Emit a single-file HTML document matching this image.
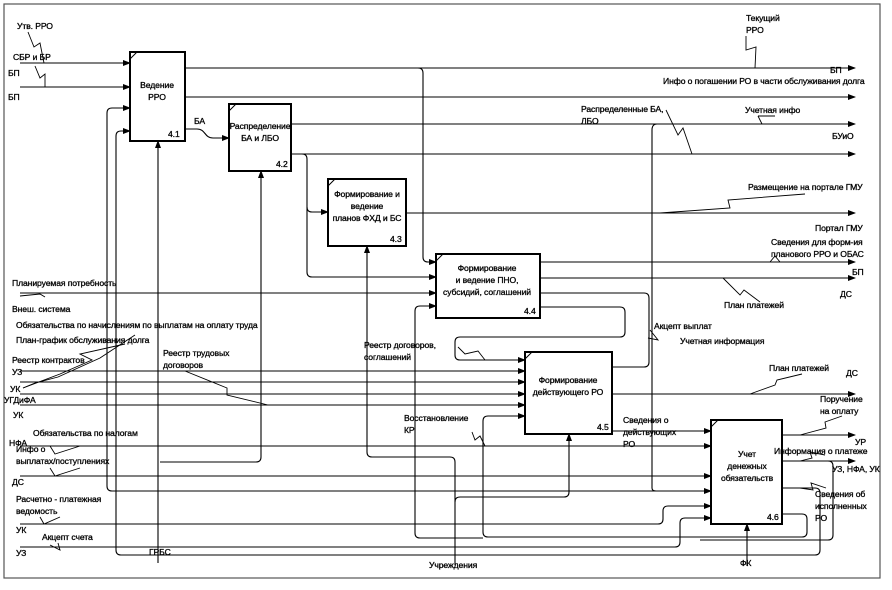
<!DOCTYPE html>
<html><head><meta charset="utf-8"><style>
html,body{margin:0;padding:0;background:#fff;}
svg{display:block;}
text{font-family:"Liberation Sans",Arial,sans-serif;font-size:8.6px;fill:#000;stroke:#000;stroke-width:0.3;letter-spacing:-0.1px;}
.c{text-anchor:middle;}
</style></head><body>
<svg width="892" height="590" viewBox="0 0 892 590" xmlns="http://www.w3.org/2000/svg">
<defs><marker id="a" markerWidth="8" markerHeight="6" refX="7" refY="3" orient="auto" markerUnits="userSpaceOnUse"><path d="M0,0 L8,3 L0,6 z" fill="#000"/></marker></defs>
<rect x="4" y="4" width="876" height="574" fill="none" stroke="#555" stroke-width="1.2"/>
<g fill="none" stroke="#000" stroke-width="1">
<rect x="130" y="52" width="55" height="89" stroke-width="2"/>
<rect x="229" y="104" width="62" height="67" stroke-width="2"/>
<rect x="328" y="179" width="78" height="67" stroke-width="2"/>
<rect x="436" y="254" width="104" height="64" stroke-width="2"/>
<rect x="525" y="352" width="87" height="82" stroke-width="2"/>
<rect x="711" y="420" width="71" height="104" stroke-width="2"/>
<path d="M130 59 L137 52 M229 111 L236 104 M328 186 L335 179 M436 261 L443 254 M525 359 L532 352 M711 427 L718 420"/>
</g>
<g fill="none" stroke="#000" stroke-width="1.1">
<path d="M20 63 H130" marker-end="url(#a)"/>
<path d="M20 87 H130" marker-end="url(#a)"/>
<path d="M107 486 V113 Q107 108 112 108 H130" marker-end="url(#a)"/>
<path d="M112 491 Q107 491 107 486"/>
<path d="M116 550 V136 Q116 131 121 131 H130" marker-end="url(#a)"/>
<path d="M158 563 V141" marker-end="url(#a)"/>
<path d="M185 68 H855" marker-end="url(#a)"/>
<path d="M418 68 Q423 68 423 73 V257 Q423 262 428 262 H436" marker-end="url(#a)"/>
<path d="M185 97 H855" marker-end="url(#a)"/>
<path d="M185 129 H197 C206 129 204 138 213 138 H229" marker-end="url(#a)"/>
<path d="M291 124 H855" marker-end="url(#a)"/>
<path d="M291 154 H855" marker-end="url(#a)"/>
<path d="M302 154 Q307 154 307 159 V207 Q307 212 312 212 H328" marker-end="url(#a)"/>
<path d="M307 207 V272 Q307 277 312 277 H436" marker-end="url(#a)"/>
<path d="M160 462 H256 Q261 462 261 457 V171" marker-end="url(#a)"/>
<path d="M406 213 H855" marker-end="url(#a)"/>
<path d="M455 565 V462 Q455 457 450 457 H372 Q367 457 367 452 V246" marker-end="url(#a)"/>
<path d="M20 293 H436" marker-end="url(#a)"/>
<path d="M415 533 V311 Q415 306 420 306 H436" marker-end="url(#a)"/>
<path d="M540 262 H855" marker-end="url(#a)"/>
<path d="M540 278 H855" marker-end="url(#a)"/>
<path d="M540 307 H620 Q625 307 625 312 V332 Q625 337 620 337 H460 Q455 337 455 342 V355 Q455 360 460 360 H525" marker-end="url(#a)"/>
<path d="M612 367 H644 Q649 367 649 362 V298 Q649 293 644 293 H540"/>
<path d="M652 488 V130 Q652 124 657 124"/>
<path d="M652 488 Q652 491 656 491"/>
<path d="M20 371 H525" marker-end="url(#a)"/>
<path d="M20 382 H525" marker-end="url(#a)"/>
<path d="M20 394 H525" marker-end="url(#a)"/>
<path d="M20 405 H525" marker-end="url(#a)"/>
<path d="M782 514 H802 Q807 514 807 519 V532 Q807 537 802 537 H488 Q483 537 483 532 V421 Q483 416 488 416 H525" marker-end="url(#a)"/>
<path d="M415 533 Q415 538 420 538 H483"/>
<path d="M569 492 V434" marker-end="url(#a)"/>
<path d="M569 492 Q569 497 564 497 H460 Q455 497 455 502"/>
<path d="M612 394 H855" marker-end="url(#a)"/>
<path d="M612 431 H711" marker-end="url(#a)"/>
<path d="M20 446 H711" marker-end="url(#a)"/>
<path d="M20 476 H711" marker-end="url(#a)"/>
<path d="M112 491 H711" marker-end="url(#a)"/>
<path d="M20 524 H658 Q663 524 663 519 V511 Q663 506 668 506 H711" marker-end="url(#a)"/>
<path d="M20 547 H675 Q680 547 680 542 V523 Q680 518 685 518 H711" marker-end="url(#a)"/>
<path d="M747 566 V524" marker-end="url(#a)"/>
<path d="M782 435 H855" marker-end="url(#a)"/>
<path d="M782 461 H855" marker-end="url(#a)"/>
<path d="M828 461 Q833 461 833 466 V535 Q833 540 828 540 H700"/>
<path d="M782 488 H815 Q820 488 820 493 V550 Q820 555 815 555 H121 Q116 555 116 550"/>
</g>
<g fill="none" stroke="#000" stroke-width="0.9">
<path d="M28 32 L34 47 L40 43 L44 63"/>
<path d="M35 66 L40 78 L45 74 L45 87"/>
<path d="M746 36 V50 L756 47 L755 68"/>
<path d="M666 110 L678 135 L683 128 L692 154"/>
<path d="M758 116 H775 M758 116 L762 124"/>
<path d="M660 213 L730 208 L728 200 L805 194"/>
<path d="M770 262 L775 256 L780 262"/>
<path d="M723 278 L740 295 L744 290 L760 302"/>
<path d="M648 338 L658 340 L650 330"/>
<path d="M750 394 L775 385 L777 380 L802 374"/>
<path d="M800 435 L826 428 L825 422 L842 416"/>
<path d="M800 461 L812 458 L810 452 L825 455"/>
<path d="M800 488 L813 490 L811 483 L826 488"/>
<path d="M20 296 L40 294 L45 297"/>
<path d="M23 388 L35 383 L58 377 L100 358 L135 335"/>
<path d="M23 388 L60 374 L92 360 L80 354 L125 344"/>
<path d="M185 371 L227 388 L227 395 L268 405"/>
<path d="M50 446 L55 454 L80 446"/>
<path d="M50 468 L55 476 L80 468"/>
<path d="M40 517 L44 524 L60 517"/>
<path d="M50 545 L60 550 L58 543"/>
<path d="M458 347 L465 354 L478 351 L485 360"/>
<path d="M472 432 L475 440 L480 436 L485 446"/>
</g>
<g>
<text class="c" x="157" y="88">Ведение</text><text class="c" x="157" y="100">РРО</text><text x="168" y="137">4.1</text>
<text class="c" x="260" y="129">Распределение</text><text class="c" x="260" y="141">БА и ЛБО</text><text x="276" y="167">4.2</text>
<text class="c" x="367" y="197">Формирование и</text><text class="c" x="367" y="209">ведение</text><text class="c" x="367" y="221">планов ФХД и БС</text><text x="390" y="242">4.3</text>
<text class="c" x="487" y="271">Формирование</text><text class="c" x="487" y="283">и ведение ПНО,</text><text class="c" x="487" y="295">субсидий, соглашений</text><text x="524" y="314">4.4</text>
<text class="c" x="568" y="383">Формирование</text><text class="c" x="568" y="395">действующего РО</text><text x="597" y="430">4.5</text>
<text class="c" x="747" y="457">Учет</text><text class="c" x="747" y="469">денежных</text><text class="c" x="747" y="481">обязательств</text><text x="767" y="520">4.6</text>
<text x="17" y="29">Утв. РРО</text>
<text x="13" y="60">СБР и БР</text>
<text x="8" y="76">БП</text>
<text x="8" y="100">БП</text>
<text x="194" y="124">БА</text>
<text x="746" y="21">Текущий</text><text x="746" y="33">РРО</text>
<text x="830" y="73">БП</text>
<text x="663" y="84">Инфо о погашении РО в части обслуживания долга</text>
<text x="581" y="112">Распределенные БА,</text><text x="581" y="124">ЛБО</text>
<text x="745" y="113">Учетная инфо</text>
<text x="832" y="139">БУиО</text>
<text x="748" y="190">Размещение на портале ГМУ</text>
<text x="815" y="231">Портал ГМУ</text>
<text x="771" y="245">Сведения для форм-ия</text><text x="771" y="257">планового РРО и ОБАС</text>
<text x="852" y="275">БП</text>
<text x="840" y="297">ДС</text>
<text x="724" y="308">План платежей</text>
<text x="654" y="329">Акцепт выплат</text>
<text x="680" y="344">Учетная информация</text>
<text x="769" y="371">План платежей</text>
<text x="846" y="376">ДС</text>
<text x="820" y="402">Поручение</text><text x="820" y="414">на оплату</text>
<text x="623" y="423">Сведения о</text><text x="623" y="435">действующих</text><text x="623" y="447">РО</text>
<text x="855" y="445">УР</text>
<text x="774" y="454">Информация о платеже</text>
<text x="832" y="472">УЗ, НФА, УК</text>
<text x="815" y="497">Сведения об</text><text x="815" y="509">исполненных</text><text x="815" y="521">РО</text>
<text x="740" y="566">ФК</text>
<text x="429" y="568">Учреждения</text>
<text x="149" y="555">ГРБС</text>
<text x="12" y="286">Планируемая потребность</text>
<text x="12" y="312">Внеш. система</text>
<text x="16" y="328">Обязательства по начислениям по выплатам на оплату труда</text>
<text x="16" y="343">План-график обслуживания долга</text>
<text x="12" y="363">Реестр контрактов</text>
<text x="12" y="375">УЗ</text>
<text x="10" y="392">УК</text>
<text x="4" y="403">УГДиФА</text>
<text x="13" y="418">УК</text>
<text x="33" y="436">Обязательства по налогам</text>
<text x="9" y="446">НФА</text>
<text x="16" y="452">Инфо о</text><text x="16" y="464">выплатах/поступлениях</text>
<text x="12" y="485">ДС</text>
<text x="16" y="502">Расчетно - платежная</text><text x="16" y="514">ведомость</text>
<text x="16" y="533">УК</text>
<text x="42" y="540">Акцепт счета</text>
<text x="16" y="556">УЗ</text>
<text x="163" y="356">Реестр трудовых</text><text x="163" y="368">договоров</text>
<text x="364" y="348">Реестр договоров,</text><text x="364" y="360">соглашений</text>
<text x="404" y="421">Восстановление</text><text x="404" y="433">КР</text>
</g>
</svg>
</body></html>
